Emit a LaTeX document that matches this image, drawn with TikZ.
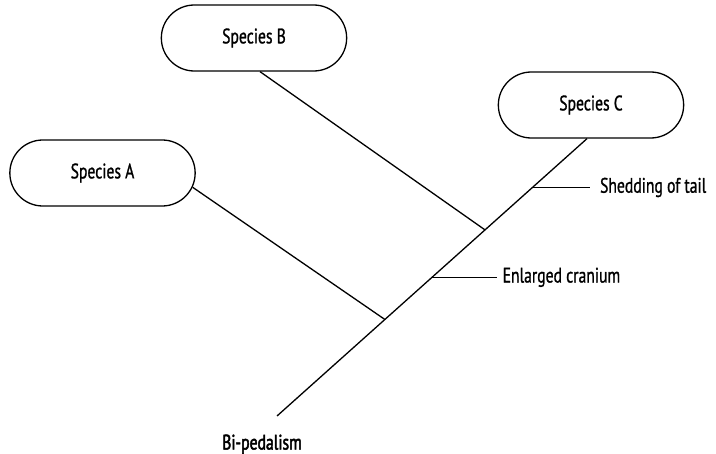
\documentclass[tikz,border=0pt]{standalone}
\usepackage{fontspec}
\setmainfont{PT Sans}[FakeStretch=0.745,FakeBold=1]
\newfontfamily\heavyfont{PT Sans}[FakeStretch=0.745,FakeBold=2.2]
\usetikzlibrary{positioning,shapes.misc,calc}

\begin{document}
\begin{tikzpicture}[x=1pt, y=-1pt, line width=1.3pt,
  sp/.style={draw, rounded rectangle, minimum width=192pt, minimum height=66pt,
             font=\fontsize{21}{25}\selectfont},
  lbl/.style={inner sep=3pt, font=\fontsize{21}{25}\selectfont}]
\useasboundingbox (0,0) rectangle (716,454);
\node[sp] (spA) at (102.5,173) {Species A};
\node[sp] (spB) at (254,38) {Species B};
\node[sp] (spC) at (591,105) {Species C};
\coordinate (base) at (277,416);
\coordinate (top) at ([xshift=-4pt]spC.south);
\coordinate (jA) at ($(base)!0.348!(top)$);
\coordinate (jB) at ($(base)!0.671!(top)$);
\coordinate (tC) at ($(base)!0.5!(top)$);
\coordinate (tS) at ($(base)!0.824!(top)$);
\node[lbl, right=67pt of tC] (cran) {Enlarged cranium};
\node[lbl, right=64pt of tS] (shed) {Shedding of tail};
\node[lbl, below=15pt of base, xshift=-15pt, font=\fontsize{21}{25}\heavyfont] (bip) {Bi-pedalism};
\draw (base) -- (top);
\draw (spA.-9) -- (jA);
\draw ([xshift=6pt]spB.south) -- (jB);
\draw[shorten >=2pt] (tC) -- (cran.west);
\draw[shorten >=6pt] (tS) -- (shed.west);
\end{tikzpicture}
\end{document}
